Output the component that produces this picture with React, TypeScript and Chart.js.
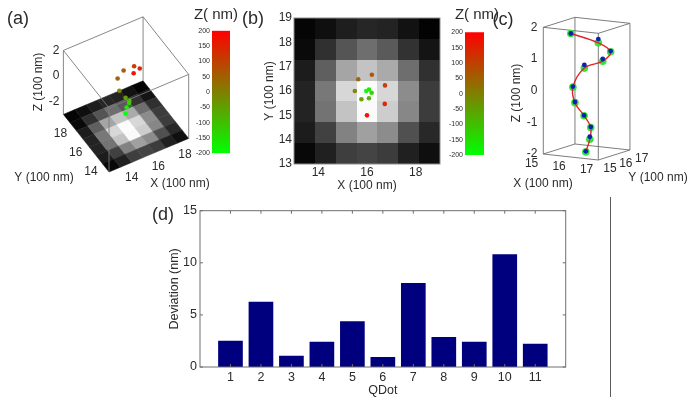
import React, { useEffect, useRef } from "react";
import { Chart, registerables } from "chart.js";

Chart.register(...registerables);

// ---------- data ----------
const qdots = [1, 2, 3, 4, 5, 6, 7, 8, 9, 10, 11];
const deviation = [2.53, 6.27, 1.09, 2.43, 4.38, 0.96, 8.06, 2.88, 2.43, 10.81, 2.24];

// QDot positions, in units of 100 nm
const dotX = [16.0, 16.73, 16.74, 16.2, 15.64, 15.5, 15.77, 16.08, 16.19, 16.08, 15.97];
const dotY = [15.0, 15.47, 16.23, 16.67, 16.48, 16.0, 15.66, 15.7, 15.93, 16.06, 16.0];
const dotZ = [1.9, 1.6, 1.2, 0.78, 0.54, 0.0, -0.41, -0.8, -1.2, -1.6, -2.0];
const measuredZ = [1.9, 1.72, 1.22, 0.85, 0.64, 0.02, -0.39, -0.79, -1.18, -1.52, -1.98];

// PSF image, gray levels, top row = high Y
const heatRow1 = [5, 15, 30, 38, 35, 18, 3];
const heatRow2 = [10, 48, 85, 110, 90, 50, 20];
const heatRow3 = [28, 95, 165, 195, 170, 110, 48];
const heatRow4 = [35, 120, 215, 252, 215, 140, 60];
const heatRow5 = [35, 115, 195, 250, 205, 135, 60];
const heatRow6 = [28, 65, 130, 160, 140, 80, 40];
const heatRow7 = [8, 32, 62, 68, 60, 32, 15];
const heatRows = [heatRow1, heatRow2, heatRow3, heatRow4, heatRow5, heatRow6, heatRow7];

const aXYTicks = [14, 16, 18];
const aZTicks = [2, 0, -2];
const bXTicks = [14, 16, 18];
const cZTicks = [2, 1, 0, -1, -2];
const cXYTicks = [15, 16, 17];

// ---------- helpers ----------
const FONT = '"Liberation Sans", Arial, sans-serif';
const INK = "#2b2b2b";
type Rect = { left: number; top: number; w: number; h: number };
type Txt = { t: string; x: number; y: number; size: number; rot?: boolean; align?: CanvasTextAlign };
const noGrid = { display: false, drawTicks: false };

const zColor = (z: number) => {
  const t = Math.max(0, Math.min(1, (z + 2) / 4));
  return `rgb(${Math.round(235 * t + 10)},${Math.round(240 * (1 - t) + 15)},${Math.round(10)})`;
};

const textPlugin = (rect: Rect, items: Txt[]) => ({
  id: "texts",
  afterDraw(chart: any) {
    const c = chart.ctx;
    c.save();
    c.fillStyle = INK;
    c.textBaseline = "middle";
    for (const it of items) {
      c.save();
      c.font = `${it.size}px ${FONT}`;
      c.textAlign = it.align ?? "center";
      c.translate(it.x - rect.left, it.y - rect.top);
      if (it.rot) c.rotate(-Math.PI / 2);
      c.fillText(it.t, 0, 0);
      c.restore();
    }
    c.restore();
  },
});

const framePlugin = (color: string, tickLen: number) => ({
  id: "frame",
  afterDatasetsDraw(chart: any) {
    const { ctx: c, chartArea: a, scales } = chart;
    c.save();
    c.strokeStyle = color;
    c.lineWidth = 1;
    c.strokeRect(a.left, a.top, a.right - a.left, a.bottom - a.top);
    if (tickLen > 0) {
      c.beginPath();
      for (const t of scales.x.ticks) {
        const p = scales.x.getPixelForValue(t.value);
        c.moveTo(p, a.bottom);
        c.lineTo(p, a.bottom - tickLen);
        c.moveTo(p, a.top);
        c.lineTo(p, a.top + tickLen);
      }
      for (const t of scales.y.ticks) {
        const p = scales.y.getPixelForValue(t.value);
        c.moveTo(a.left, p);
        c.lineTo(a.left + tickLen, p);
        c.moveTo(a.right, p);
        c.lineTo(a.right - tickLen, p);
      }
      c.stroke();
    }
    c.restore();
  },
});

const baseOptions = (padding: any) => ({
  responsive: false,
  animation: false as const,
  layout: { autoPadding: false, padding },
  plugins: { legend: { display: false }, tooltip: { enabled: false } },
});

// Axes-bearing panel: places the plot area exactly and the two axis titles
function placed(rect: Rect, area: { l: number; t: number; r: number; b: number }, yTitleX: number, xTitleY: number, fs: number) {
  const half = (fs * 1.2) / 2;
  const scaleLeft = yTitleX - half;
  const scaleBottom = xTitleY + half;
  return {
    padding: {
      left: scaleLeft - rect.left,
      top: area.t - rect.top,
      right: rect.left + rect.w - area.r,
      bottom: rect.top + rect.h - scaleBottom,
    },
    yW: area.l - scaleLeft,
    xH: scaleBottom - area.b,
  };
}

// Hidden linear scales that run in page pixels, used by the projected 3-D panels
const pageScales = (rect: Rect) => ({
  x: { type: "linear", display: false, min: rect.left, max: rect.left + rect.w },
  y: { type: "linear", display: false, min: rect.top, max: rect.top + rect.h, reverse: true },
});

// ---------- panel configs ----------
const rectA: Rect = { left: 0, top: 0, w: 216, h: 195 };
const rectABar: Rect = { left: 190, top: 0, w: 50, h: 165 };
const rectB: Rect = { left: 240, top: 0, w: 205, h: 198 };
const rectBBar: Rect = { left: 440, top: 0, w: 60, h: 165 };
const rectC: Rect = { left: 490, top: 0, w: 204, h: 195 };
const rectD: Rect = { left: 140, top: 195, w: 480, h: 207 };

// (a) projection, 13..19 in X/Y and -3..2 in Z
const projA = (x: number, y: number, z: number) => ({
  x: 109 + (x - 13) * 13.28 - (y - 13) * 7.6,
  y: 172 - (x - 13) * 5.6 - (y - 13) * 9.6 - (z + 3) * 12.8,
});
// (c) projection, 15..17 in X/Y and -2..2 in Z
const projC = (x: number, y: number, z: number) => ({
  x: 543.3 + (x - 15) * 27.5 + (y - 15) * 15.83,
  y: 154 + (x - 15) * 3 - (y - 15) * 5 - (z + 2) * 31.67,
});

function configA() {
  const s = 6 / 7;
  const heat = {
    id: "heat3d",
    beforeDatasetsDraw(chart: any) {
      const { ctx: c, scales } = chart;
      const P = (x: number, y: number, z: number) => {
        const p = projA(x, y, z);
        return [scales.x.getPixelForValue(p.x), scales.y.getPixelForValue(p.y)];
      };
      heatRows.forEach((row, i) =>
        row.forEach((g, j) => {
          const x0 = 13 + j * s, x1 = x0 + s, y1 = 19 - i * s, y0 = y1 - s;
          const col = `rgb(${g},${g},${g})`;
          c.fillStyle = col;
          c.strokeStyle = col;
          c.lineWidth = 0.5;
          c.beginPath();
          c.moveTo(...P(x0, y0, -3));
          c.lineTo(...P(x1, y0, -3));
          c.lineTo(...P(x1, y1, -3));
          c.lineTo(...P(x0, y1, -3));
          c.closePath();
          c.fill();
          c.stroke();
        })
      );
      // wire box
      const seg = (a: number[], b: number[]) => {
        c.moveTo(...P(a[0], a[1], a[2]));
        c.lineTo(...P(b[0], b[1], b[2]));
      };
      c.strokeStyle = "#7a7a7a";
      c.lineWidth = 0.9;
      c.beginPath();
      const lo = 13, hi = 19, zb = -3, zt = 2;
      seg([lo, hi, zt], [hi, hi, zt]);
      seg([hi, hi, zt], [hi, lo, zt]);
      seg([hi, lo, zt], [lo, lo, zt]);
      seg([lo, lo, zt], [lo, hi, zt]);
      seg([lo, hi, zb], [lo, hi, zt]);
      seg([hi, hi, zb], [hi, hi, zt]);
      seg([hi, lo, zb], [hi, lo, zt]);
      seg([lo, lo, zb], [lo, lo, zt]);
      c.stroke();
    },
  };
  const texts: Txt[] = [
    { t: "(a)", x: 18, y: 19, size: 18 },
    { t: "Z (100 nm)", x: 39, y: 82, size: 12, rot: true },
    { t: "Y (100 nm)", x: 44, y: 178, size: 12 },
    { t: "X (100 nm)", x: 180, y: 184, size: 12 },
    ...aZTicks.map((z) => ({ t: String(z), x: projA(13, 19, z).x - 4, y: projA(13, 19, z).y, size: 12, align: "right" as const })),
    ...aXYTicks.map((v) => ({ t: String(v), x: projA(v, 13, -3).x + 9.5, y: projA(v, 13, -3).y + 11, size: 12 })),
    ...aXYTicks.map((v) => ({ t: String(v), x: projA(13, v, -3).x - 10.5, y: projA(13, v, -3).y + 9.7, size: 12 })),
  ];
  return {
    type: "scatter",
    data: {
      datasets: [
        {
          data: dotX.map((x, i) => projA(x, dotY[i], dotZ[i])),
          pointRadius: 2.3,
          pointBorderWidth: 0,
          pointBackgroundColor: dotZ.map(zColor),
        },
      ],
    },
    options: { ...baseOptions(0), scales: pageScales(rectA) },
    plugins: [heat, textPlugin(rectA, texts)],
  };
}

function colorBar(rect: Rect, l: number, r: number, t: number, b: number, titleX: number, titleY: number) {
  const axisW = 20;
  return {
    type: "bar",
    data: {
      labels: ["Z"],
      datasets: [
        {
          data: [[-200, 200]],
          barPercentage: 1,
          categoryPercentage: 1,
          backgroundColor: (ctx: any) => {
            const { ctx: c, chartArea } = ctx.chart;
            if (!chartArea) return "#888";
            const g = c.createLinearGradient(0, chartArea.bottom, 0, chartArea.top);
            g.addColorStop(0, "rgb(0,255,0)");
            g.addColorStop(1, "rgb(255,0,0)");
            return g;
          },
        },
      ],
    },
    options: {
      ...baseOptions({
        left: l - rect.left - axisW,
        top: t - rect.top,
        right: rect.left + rect.w - r,
        bottom: rect.top + rect.h - b,
      }),
      scales: {
        x: { display: false },
        y: {
          min: -200,
          max: 200,
          border: { display: false },
          grid: noGrid,
          afterFit: (s: any) => {
            s.width = axisW;
          },
          ticks: { stepSize: 50, font: { size: 7, family: FONT }, color: INK, padding: 2 },
        },
      },
    },
    plugins: [textPlugin(rect, [{ t: "Z( nm)", x: titleX, y: titleY, size: 15 }])],
  };
}

function configB() {
  const area = { l: 294, t: 18, r: 440, b: 164 };
  const pl = placed(rectB, area, 269.5, 186, 12);
  const s = 6 / 7;
  const heat = {
    id: "heat2d",
    beforeDatasetsDraw(chart: any) {
      const { ctx: c, scales } = chart;
      heatRows.forEach((row, i) =>
        row.forEach((g, j) => {
          const x0 = scales.x.getPixelForValue(13 + j * s);
          const x1 = scales.x.getPixelForValue(13 + (j + 1) * s);
          const y0 = scales.y.getPixelForValue(19 - i * s);
          const y1 = scales.y.getPixelForValue(19 - (i + 1) * s);
          c.fillStyle = `rgb(${g},${g},${g})`;
          c.fillRect(Math.round(x0), Math.round(y0), Math.round(x1) - Math.round(x0), Math.round(y1) - Math.round(y0));
        })
      );
    },
  };
  const tickFont = { size: 12, family: FONT };
  const title = (text: string) => ({ display: true, text, color: INK, font: tickFont, padding: 0 });
  return {
    type: "scatter",
    data: {
      datasets: [
        {
          data: dotX.map((x, i) => ({ x, y: dotY[i] })),
          pointRadius: 2.3,
          pointBorderWidth: 0,
          pointBackgroundColor: dotZ.map(zColor),
        },
      ],
    },
    options: {
      ...baseOptions(pl.padding),
      scales: {
        x: {
          type: "linear",
          min: 13,
          max: 19,
          border: { display: false },
          grid: noGrid,
          afterBuildTicks: (a: any) => {
            a.ticks = bXTicks.map((value) => ({ value }));
          },
          afterFit: (a: any) => {
            a.height = pl.xH;
          },
          ticks: { font: tickFont, color: INK, padding: 1, maxRotation: 0 },
          title: title("X (100 nm)"),
        },
        y: {
          type: "linear",
          min: 13,
          max: 19,
          border: { display: false },
          grid: noGrid,
          afterFit: (a: any) => {
            a.width = pl.yW;
          },
          ticks: { stepSize: 1, font: tickFont, color: INK, padding: 2 },
          title: title("Y (100 nm)"),
        },
      },
    },
    plugins: [heat, framePlugin("#8c8c8c", 0), textPlugin(rectB, [{ t: "(b)", x: 253, y: 19, size: 18 }])],
  };
}

function configC() {
  const box = {
    id: "box3d",
    beforeDatasetsDraw(chart: any) {
      const { ctx: c, scales } = chart;
      const P = (x: number, y: number, z: number) => {
        const p = projC(x, y, z);
        return [scales.x.getPixelForValue(p.x), scales.y.getPixelForValue(p.y)];
      };
      c.save();
      c.strokeStyle = "#6e6e6e";
      c.lineWidth = 0.9;
      c.beginPath();
      const corners = [[15, 15], [17, 15], [17, 17], [15, 17]];
      for (const z of [-2, 2]) {
        corners.forEach(([x, y], i) => {
          const [nx, ny] = corners[(i + 1) % 4];
          c.moveTo(...P(x, y, z));
          c.lineTo(...P(nx, ny, z));
        });
      }
      corners.forEach(([x, y]) => {
        c.moveTo(...P(x, y, -2));
        c.lineTo(...P(x, y, 2));
      });
      c.stroke();
      c.restore();
    },
  };
  const texts: Txt[] = [
    { t: "(c)", x: 503, y: 20, size: 18 },
    { t: "Z (100 nm)", x: 517, y: 93, size: 12, rot: true },
    { t: "X (100 nm)", x: 543, y: 184, size: 12 },
    { t: "Y (100 nm)", x: 658, y: 178, size: 12 },
    ...cZTicks.map((z) => ({ t: String(z), x: projC(15, 15, z).x - 6, y: projC(15, 15, z).y, size: 12, align: "right" as const })),
    ...cXYTicks.map((v) => ({ t: String(v), x: projC(v, 15, -2).x - 11.7, y: projC(v, 15, -2).y + 9.3, size: 12 })),
    ...cXYTicks.map((v) => ({ t: String(v), x: projC(17, v, -2).x + 11.7, y: projC(17, v, -2).y + 8.2, size: 12 })),
  ];
  const green = dotX.map((x, i) => projC(x, dotY[i], dotZ[i]));
  const blue = dotX.map((x, i) => projC(x, dotY[i], measuredZ[i]));
  return {
    type: "scatter",
    data: {
      datasets: [
        { data: blue, order: 0, pointRadius: 2.4, pointBorderWidth: 0, pointBackgroundColor: "#0f1fb4", showLine: false },
        { data: green, order: 1, showLine: true, borderColor: "#e3242b", borderWidth: 1.4, tension: 0.35, pointRadius: 0 },
        { data: green, order: 2, pointRadius: 3.8, pointBorderWidth: 0, pointBackgroundColor: "#2fe83a", showLine: false },
      ],
    },
    options: { ...baseOptions(0), scales: pageScales(rectC) },
    plugins: [box, textPlugin(rectC, texts)],
  };
}

function configD() {
  const area = { l: 200, t: 210.7, r: 565.7, b: 367 };
  const pl = placed(rectD, area, 174.5, 390.5, 12.5);
  const tickFont = { size: 12.5, family: FONT };
  const title = (text: string) => ({ display: true, text, color: INK, font: tickFont, padding: 0 });
  const rule = {
    id: "rule",
    afterDraw(chart: any) {
      const c = chart.ctx;
      c.save();
      c.strokeStyle = "#5a5a5a";
      c.lineWidth = 1;
      c.beginPath();
      c.moveTo(610.5 - rectD.left, 197 - rectD.top);
      c.lineTo(610.5 - rectD.left, 397 - rectD.top);
      c.stroke();
      c.restore();
    },
  };
  return {
    type: "bar",
    data: {
      datasets: [
        {
          data: qdots.map((x, i) => ({ x, y: deviation[i] })),
          backgroundColor: "#00007f",
          barPercentage: 0.81,
          categoryPercentage: 1,
        },
      ],
    },
    options: {
      ...baseOptions(pl.padding),
      scales: {
        x: {
          type: "linear",
          min: 0,
          max: 12,
          offset: false,
          border: { display: false },
          grid: noGrid,
          afterBuildTicks: (a: any) => {
            a.ticks = qdots.map((value) => ({ value }));
          },
          afterFit: (a: any) => {
            a.height = pl.xH;
          },
          ticks: { font: tickFont, color: INK, padding: 3, maxRotation: 0, autoSkip: false },
          title: title("QDot"),
        },
        y: {
          min: 0,
          max: 15,
          border: { display: false },
          grid: noGrid,
          afterFit: (a: any) => {
            a.width = pl.yW;
          },
          ticks: { stepSize: 5, font: tickFont, color: INK, padding: 3 },
          title: title("Deviation (nm)"),
        },
      },
    },
    plugins: [framePlugin("#6e6e6e", 3), rule, textPlugin(rectD, [{ t: "(d)", x: 163, y: 215, size: 18 }])],
  };
}

const panels: { rect: Rect; make: () => any }[] = [
  { rect: rectABar, make: () => colorBar(rectABar, 212, 230, 30.7, 153.3, 216, 15) },
  { rect: rectA, make: configA },
  { rect: rectBBar, make: () => colorBar(rectBBar, 465, 484, 32.3, 155, 477, 15) },
  { rect: rectB, make: configB },
  { rect: rectC, make: configC },
  { rect: rectD, make: configD },
];

export default function App() {
  const refs = useRef<(HTMLCanvasElement | null)[]>([]);
  useEffect(() => {
    const charts = panels.map((p, i) => new Chart(refs.current[i] as HTMLCanvasElement, p.make()));
    return () => charts.forEach((c) => c.destroy());
  }, []);
  return (
    <div style={{ position: "absolute", left: 0, top: 0, width: 694, height: 402, background: "#fff", overflow: "hidden" }}>
      {panels.map((p, i) => (
        <canvas
          key={i}
          ref={(el) => {
            refs.current[i] = el;
          }}
          width={p.rect.w}
          height={p.rect.h}
          style={{ position: "absolute", left: p.rect.left, top: p.rect.top, width: p.rect.w, height: p.rect.h }}
        />
      ))}
    </div>
  );
}
